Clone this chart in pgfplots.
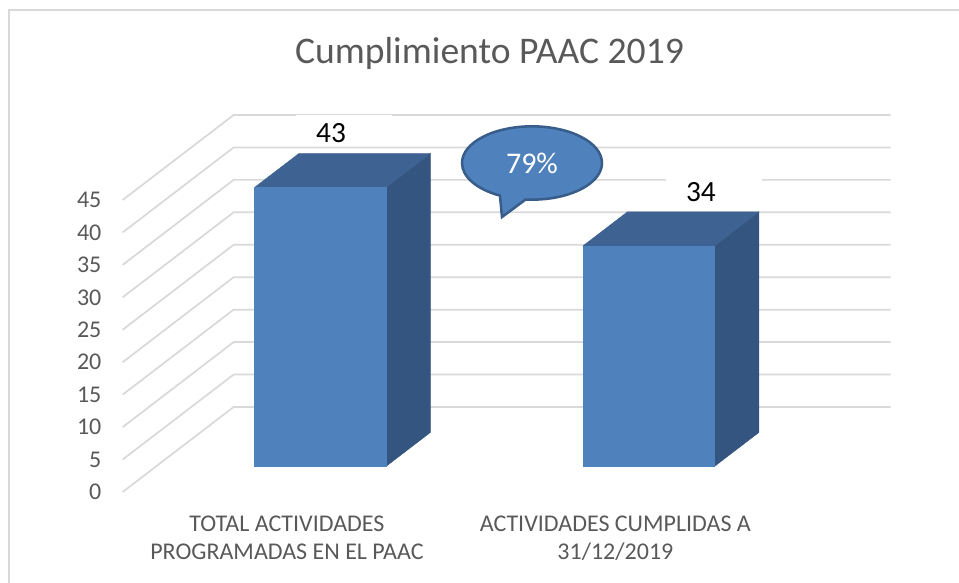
\documentclass[border=0pt]{standalone}
\usepackage{pgfplots}
\pgfplotsset{compat=1.18}
\usepackage{fontspec}
\setmainfont{Carlito}
\usetikzlibrary{shapes.callouts}
\definecolor{front}{HTML}{4F81BD}
\definecolor{topc}{HTML}{3E6392}
\definecolor{side}{HTML}{34557F}
\definecolor{gridc}{HTML}{D9D9D9}
\definecolor{txt}{HTML}{595959}
\definecolor{bubbleb}{HTML}{385D8A}
\begin{document}
\begin{tikzpicture}
\begin{axis}[
  x={(246.375pt,0pt)}, y={(83.25pt,63.75pt)}, z={(0pt,4.8668pt)},
  hide axis, clip=false,
  xmin=-0.9, xmax=2.1, ymin=0, ymax=1, zmin=-15, zmax=76,
]
% picture frame
\coordinate (bl) at (axis cs:-0.8734,0,-14.02);
\coordinate (tr) at (axis cs:2.0460,0,75.82);
\draw[gridc, line width=1.8pt] (axis cs:-0.8460,0,-16) -- (axis cs:-0.8460,0,74.28) -- (axis cs:2.1,0,74.28);
% grid lines and tick labels
\pgfplotsinvokeforeach{0,5,10,15,20,25,30,35,40,45}{
  \draw[gridc, line width=1.3pt] (axis cs:-0.5,0,#1) -- (axis cs:-0.5,1,#1) -- (axis cs:1.5,1,#1);
  \node[anchor=east, inner sep=0pt, xshift=-15.75pt, text=txt, font=\fontsize{18}{21}\selectfont] at (axis cs:-0.5,0,#1) {#1};
}
% bar 1 : 43
\addplot3[fill=side, draw=side, line width=0.3pt] coordinates {(0.2,0.3,0) (0.2,0.7,0) (0.2,0.7,43) (0.2,0.3,43)} -- cycle;
\addplot3[fill=topc, draw=topc, line width=0.3pt] coordinates {(-0.2,0.3,43) (0.2,0.3,43) (0.2,0.7,43) (-0.2,0.7,43)} -- cycle;
\addplot3[fill=front, draw=front, line width=0.3pt] coordinates {(-0.2,0.3,0) (0.2,0.3,0) (0.2,0.3,43) (-0.2,0.3,43)} -- cycle;
% bar 2 : 34
\addplot3[fill=side, draw=side, line width=0.3pt] coordinates {(1.2,0.3,0) (1.2,0.7,0) (1.2,0.7,34) (1.2,0.3,34)} -- cycle;
\addplot3[fill=topc, draw=topc, line width=0.3pt] coordinates {(0.8,0.3,34) (1.2,0.3,34) (1.2,0.7,34) (0.8,0.7,34)} -- cycle;
\addplot3[fill=front, draw=front, line width=0.3pt] coordinates {(0.8,0.3,0) (1.2,0.3,0) (1.2,0.3,34) (0.8,0.3,34)} -- cycle;
% data labels
\node[fill=white, inner sep=0pt, minimum width=72pt, minimum height=22.5pt, xshift=9.75pt, yshift=30pt] at (axis cs:-0.0347,0.5,43) {};
\node[inner sep=0pt, yshift=27.75pt, font=\fontsize{22}{26}\selectfont] at (axis cs:-0.0347,0.5,43) {43};
\node[fill=white, inner sep=0pt, minimum width=72pt, minimum height=22.5pt, xshift=9.75pt, yshift=30pt] at (axis cs:1.0916,0.5,34) {};
\node[inner sep=0pt, yshift=27.75pt, font=\fontsize{22}{26}\selectfont] at (axis cs:1.0916,0.5,34) {34};
% callout
\coordinate (tip) at (axis cs:0.6548,0,42.38);
\node[ellipse callout, callout absolute pointer={(tip)}, callout pointer arc=22, fill=front, draw=bubbleb, line width=1.9pt,
  minimum width=105pt, minimum height=55pt, inner sep=0pt, text=white, font=\fontsize{22.5}{26}\selectfont]
  at (axis cs:0.7461,0,50.70) {79\%};
% title
\node[anchor=base, inner sep=0pt, text=txt, font=\fontsize{28.2}{33}\selectfont] at (axis cs:0.6167,0,65.96) {Cumplimiento PAAC 2019};
% category labels
\node[anchor=base, inner sep=0pt, text=txt, font=\fontsize{18}{21}\selectfont] at (axis cs:0,0,-6.164) {TOTAL ACTIVIDADES};
\node[anchor=base, inner sep=0pt, text=txt, font=\fontsize{18}{21}\selectfont] at (axis cs:0,0,-10.479) {PROGRAMADAS EN EL PAAC};
\node[anchor=base, inner sep=0pt, text=txt, font=\fontsize{18}{21}\selectfont] at (axis cs:1,0,-6.164) {ACTIVIDADES CUMPLIDAS A};
\node[anchor=base, inner sep=0pt, text=txt, font=\fontsize{18}{21}\selectfont] at (axis cs:1,0,-10.479) {31/12/2019};
\end{axis}
\pgfresetboundingbox
\path (bl) rectangle (tr);
\end{tikzpicture}
\end{document}
